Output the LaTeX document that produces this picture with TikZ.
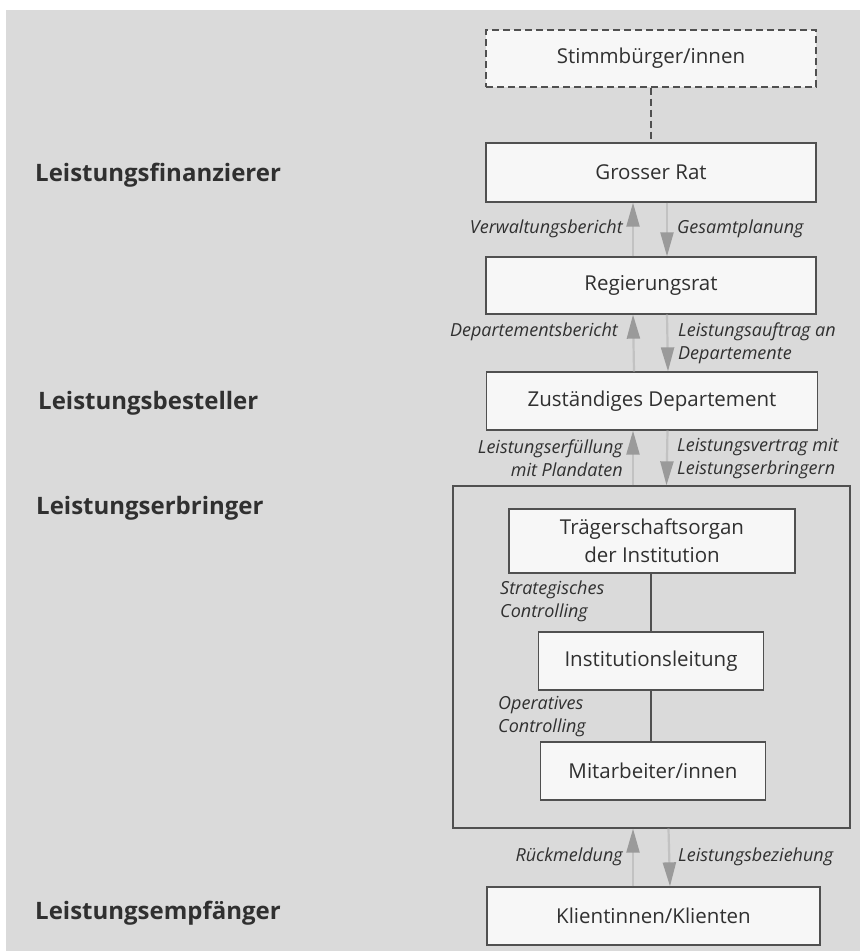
\documentclass[tikz,border=0pt]{standalone}
\usepackage{fontspec}
\setmainfont{Open Sans}
\usetikzlibrary{arrows.meta}
\definecolor{pagegrey}{HTML}{DADADA}
\definecolor{boxfill}{HTML}{F7F7F7}
\definecolor{linegrey}{HTML}{505050}
\definecolor{shaftgrey}{HTML}{C2C2C2}
\definecolor{headgrey}{HTML}{9A9A9A}
\definecolor{textgrey}{HTML}{303030}

\begin{document}
\begin{tikzpicture}[x=1pt,y=-1pt,
  box/.style={draw=linegrey,line width=1.3pt,fill=boxfill,inner sep=0pt,
    text=textgrey,align=center,font=\fontsize{20.5}{28}\selectfont},
  flowlabel/.style={inner sep=0pt,text=textgrey,font=\fontsize{18}{23}\selectfont\itshape},
  rolelabel/.style={inner sep=0pt,anchor=west,text=textgrey,font=\fontsize{24}{28}\selectfont\bfseries},
  flowarrow/.style={draw=shaftgrey,line width=2.2pt,
    -{Triangle[length=24pt,width=13pt,color=headgrey]}},
  link/.style={draw=linegrey,line width=1.3pt},
  dashbox/.style={dash pattern=on 7pt off 4pt}]
\useasboundingbox (0,0) rectangle (860,951);
\fill[white] (0,0) rectangle (860,951);
\fill[pagegrey] (6,10) rectangle (860,951);

% roles on the left
\node[rolelabel] (finanz) at (35,175) {Leistungsfinanzierer};
\node[rolelabel] (besteller) at (38,403) {Leistungsbesteller};
\node[rolelabel] (erbringer) at (36,508) {Leistungserbringer};
\node[rolelabel] (empfaenger) at (35,913) {Leistungsempfänger};

% boxes
\node[box,dashbox,minimum width=330,minimum height=57] (stimm) at (651,58.5) {Stimmbürger/innen};
\node[box,minimum width=330,minimum height=59] (grosser) at (651,172.5) {Grosser Rat};
\node[box,minimum width=330,minimum height=57] (regierung) at (651,285.5) {Regierungsrat};
\node[box,minimum width=331,minimum height=58] (depart) at (652,401) {Zuständiges Departement};
\node[box,fill=none,minimum width=397,minimum height=342] (institution) at (651.5,657) {};
\node[box,minimum width=286,minimum height=64] (traeger) at (652,541) {Trägerschaftsorgan\\der Institution};
\node[box,minimum width=225,minimum height=58] (leitung) at (651,661) {Institutionsleitung};
\node[box,minimum width=225,minimum height=58] (mitarb) at (653,771) {Mitarbeiter/innen};
\node[box,minimum width=333,minimum height=58] (klient) at (653.5,916) {Klientinnen/Klienten};

% connectors
\draw[link,dashbox] (stimm) -- (grosser);
\draw[flowarrow] ([xshift=-18pt]regierung.north) -- ([xshift=-18pt]grosser.south);
\draw[flowarrow] ([xshift=16pt]grosser.south) -- ([xshift=16pt]regierung.north);
\draw[flowarrow] ([xshift=-18pt]depart.north) -- ([xshift=-18pt]regierung.south);
\draw[flowarrow] ([xshift=16pt]regierung.south) -- ([xshift=16pt]depart.north);
\draw[flowarrow] ([xshift=-18.5pt]institution.north) -- ([xshift=-19pt]depart.south);
\draw[flowarrow] ([xshift=15.5pt]depart.south) -- ([xshift=15pt]institution.north);
\draw[link] (traeger.south -| leitung) -- (leitung);
\draw[link] (leitung.south) -- (leitung.south |- mitarb.north);
\draw[flowarrow] ([xshift=-20.5pt]klient.north) -- ([xshift=-18.5pt]institution.south);
\draw[flowarrow] ([xshift=17pt]institution.south) -- ([xshift=16.5pt]klient.north);

% flow labels
\node[flowlabel,anchor=east] (verwalt) at (623,229) {Verwaltungsbericht};
\node[flowlabel,anchor=west] (gesamt) at (677,229) {Gesamtplanung};
\node[flowlabel,anchor=east] (deptber) at (618,332) {Departementsbericht};
\node[flowlabel,anchor=west,align=left] (auftrag) at (678,343.5) {Leistungsauftrag an\\Departemente};
\node[flowlabel,anchor=east,align=right] (erfuell) at (623,458.5) {Leistungserfüllung\\mit Plandaten};
\node[flowlabel,anchor=west,align=left] (vertrag) at (677,458.5) {Leistungsvertrag mit\\Leistungserbringern};
\node[flowlabel,anchor=west,align=left] (strat) at (500,601) {Strategisches\\Controlling};
\node[flowlabel,anchor=west,align=left] (operativ) at (498,716.5) {Operatives\\Controlling};
\node[flowlabel,anchor=east] (rueck) at (623,857) {Rückmeldung};
\node[flowlabel,anchor=west] (beziehung) at (678,857) {Leistungsbeziehung};
\end{tikzpicture}
\end{document}
